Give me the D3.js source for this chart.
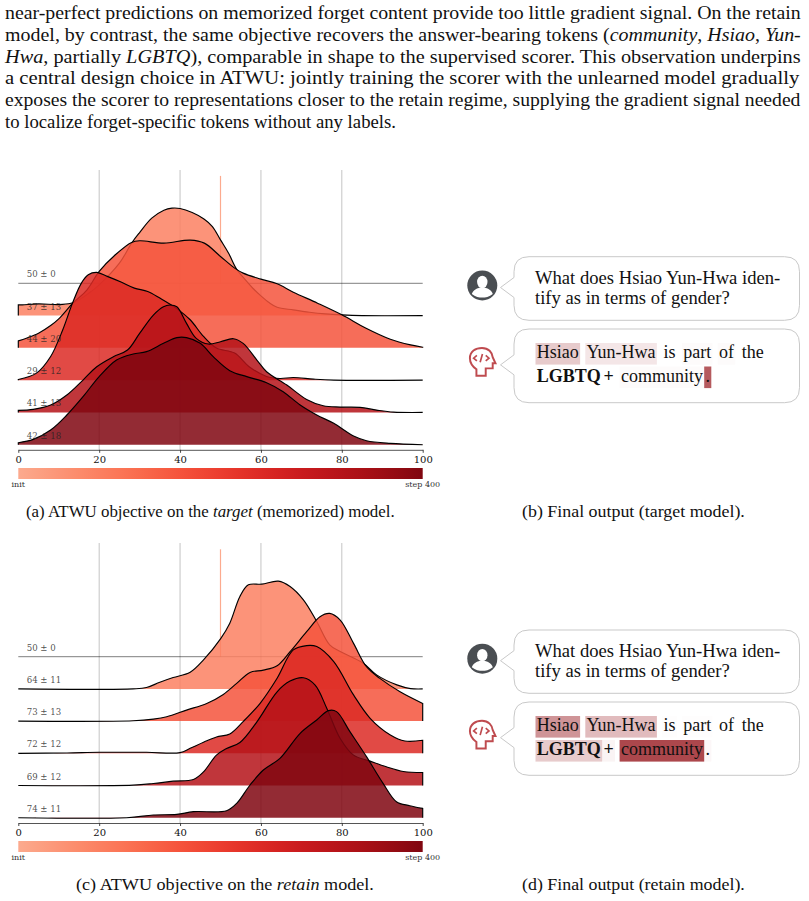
<!DOCTYPE html>
<html>
<head>
<meta charset="utf-8">
<style>
  html, body { margin: 0; padding: 0; background: #fff; }
  svg { display: block; }
</style>
<script src="https://cdn.jsdelivr.net/npm/d3@7/dist/d3.min.js"></script>
</head>
<body>
<svg id="page" width="809" height="901"></svg>
<script>
// Ridgeline values: [token position %, density]
const targetSpike = [[50, 322]];
const targetRidge1 = [[0,32],[1,32],[5,35],[10,33],[13,37],[15,47],[18,72],[20,92],[25,157],[28,217],[30,249],[33,292],[36,316],[38,322],[40,321],[43,309],[46,289],[48,267],[50,227],[52,187],[54,139],[56,109],[58,82],[60,59],[62,39],[64,25],[68,17],[72,10],[76,5],[80,2],[85,0],[100,0]];
const targetRidge2 = [[0,21],[2,29],[5,44],[8,67],[10,87],[13.5,134],[17,174],[20,229],[24,279],[28,316],[30,321],[36,314],[42.5,323],[46,314],[50,274],[53.5,239],[55.6,224],[60,206],[64,192],[68,167],[74,134],[80,99],[86,59],[92,26],[97,9],[100,2]];
const targetRidge3 = [[0,2],[4.5,21],[8,71],[11,151],[13.4,231],[15.6,291],[17.3,316],[19.4,323],[22,311],[25.4,294],[28.7,276],[32,266],[35,246],[39,216],[42.5,181],[45.8,131],[49,96],[53.5,81],[57,41],[61.4,11],[64.7,5],[68,8],[73,3],[78,0],[100,0]];
const targetRidge4 = [[0,6],[3.7,9],[8,22],[12,52],[16,97],[19.4,137],[23.5,167],[27,187],[30,237],[33.4,292],[35.9,317],[37.5,322],[39.2,317],[41.6,267],[44,222],[47,205],[50,212],[53.2,221],[55.6,207],[59,157],[61.4,122],[66.4,82],[71.3,39],[75.4,20],[79.6,16],[84.5,15],[88.6,7],[92.8,1],[100,0]];
const targetRidge5 = [[0,6],[3.7,16],[8,44],[12,89],[16,144],[20,204],[24.3,254],[28.4,272],[31.7,279],[35.9,304],[39.2,321],[41.6,321],[45,304],[48.2,264],[52.3,222],[56.5,204],[61.4,186],[65.5,159],[69.7,119],[73.8,89],[78,64],[82.9,26],[86.1,12],[92,4],[100,0]];
const targetLabels = ["50 ± 0", "37 ± 13", "44 ± 20", "29 ± 12", "41 ± 13", "42 ± 18"];

const retainSpike = [[50, 322]];
const retainRidge1 = [[0,0],[28.4,0],[31.7,4],[35,20],[38.3,34],[42.5,50],[45.8,87],[50,150],[52.3,197],[54.8,277],[56.9,312],[60.2,314],[64.3,323],[67.2,307],[70.5,267],[73.8,202],[77,132],[79.6,112],[85.3,77],[88.6,42],[93.6,12],[97,1],[100,0]];
const retainRidge2 = [[0,0],[28.4,1],[33.4,6],[36.7,13],[41.6,33],[46.6,53],[50.7,80],[54,113],[57.3,146],[60.6,153],[64,166],[67.2,208],[71.3,268],[74.6,313],[77,323],[79.6,303],[82.9,233],[86.1,163],[89.4,128],[94.4,88],[100,53]];
const retainRidge3 = [[0,0],[12,1],[20,3],[31.7,3],[40,2],[42.5,15],[45.8,33],[49,49],[52.3,58],[55.6,95],[59.8,150],[64,225],[68,310],[71.3,323],[73.8,320],[78,275],[82.9,175],[87,105],[92,55],[95.6,37],[100,39]];
const retainRidge4 = [[0,0],[28.4,1],[33.4,6],[38.3,13],[43.3,18],[45.8,41],[49,91],[51.5,111],[54.8,129],[59,191],[64,281],[67.2,313],[70.5,323],[73.4,301],[76.3,231],[79.6,141],[82.9,91],[87,73],[91,56],[95.2,42],[100,39]];
const retainRidge5 = [[0,0],[26.8,0],[33.4,8],[39.2,10],[43.3,18],[51.5,21],[54,43],[57.3,98],[60.6,143],[64.7,178],[69.7,253],[73.8,293],[76.7,321],[78.7,318],[82,258],[86.1,183],[90.2,103],[93.5,48],[96.8,36],[100,28]];
const retainLabels = ["50 ± 0", "64 ± 11", "73 ± 13", "72 ± 12", "69 ± 12", "74 ± 11"];

const xTicks = [0, 20, 40, 60, 80, 100];
const gridTicks = [20, 40, 60, 80];
const stepNames = [0, 1, 2, 3, 4, 5];

// Body text above the figure, one entry per typeset line
const paragraphLines = [
  [["near-perfect predictions on memorized forget content provide too little gradient signal. On the retain", 0]],
  [["model, by contrast, the same objective recovers the answer-bearing tokens (", 0], ["community", 1], [", ", 0], ["Hsiao", 1], [", ", 0], ["Yun-", 1]],
  [["Hwa", 1], [", partially ", 0], ["LGBTQ", 1], ["), comparable in shape to the supervised scorer. This observation underpins", 0]],
  [["a central design choice in ATWU: jointly training the scorer with the unlearned model gradually", 0]],
  [["exposes the scorer to representations closer to the retain regime, supplying the gradient signal needed", 0]],
  [["to localize forget-specific tokens without any labels.", 0]]
];
const paragraphWidths = [796, 796, 796, 795, 796, 391];

const questionLines = ["What does Hsiao Yun-Hwa iden-", "tify as in terms of gender?"];

// Answer tokens: text, attribution weight, bold, attached to the previous token
const targetAnswer = [
  [["Hsiao", 0.27, 0, 0], ["Yun-Hwa", 0.13, 0, 0], ["is", 0, 0, 0], ["part", 0.02, 0, 0], ["of", 0.02, 0, 0], ["the", 0, 0, 0]],
  [["LGBTQ", 0, 1, 0], ["+", 0, 1, 1], ["community", 0.02, 0, 0], [".", 0.85, 0, 1]]
];
const retainAnswer = [
  [["Hsiao", 0.55, 0, 0], ["Yun-Hwa", 0.35, 0, 0], ["is", 0.01, 0, 0], ["part", 0.01, 0, 0], ["of", 0, 0, 0], ["the", 0, 0, 0]],
  [["LGBTQ", 0.27, 1, 0], ["+", 0.06, 1, 1], ["community", 0.95, 0, 0], [".", 0.04, 0, 1]]
];

const svg = d3.select("#page");
const defs = svg.append("defs");
const SERIF = "'Liberation Serif', serif";
const PLOT_SERIF = "'DejaVu Serif', serif";
const shade = d3.scaleLinear().domain([0, 5]).range([0.3, 0.95]);
const ridgeColor = s => d3.interpolateReds(shade(s));

// Writes one run-list line and fits it horizontally to its typeset width
function fittedLine(parent, runs, x, y, width, size) {
  const text = parent.append("text").attr("y", 0).attr("x", 0)
    .attr("font-family", SERIF).attr("font-size", size).attr("fill", "#111")
    .style("white-space", "pre");
  runs.forEach(r => text.append("tspan").attr("font-style", r[1] ? "italic" : "normal").text(r[0]));
  const natural = text.node().getComputedTextLength();
  text.attr("transform", `translate(${x},${y}) scale(${width / natural},1)`);
  return text;
}

function ridgePanel(cfg) {
  const g = svg.append("g");
  const x = d3.scaleLinear().domain([0, 100]).range([18.3, 422.7]);
  const row = d3.scalePoint().domain(stepNames).range([cfg.firstBase, cfg.lastBase]);
  const h = d3.scaleLinear().domain([0, 322]).range([0, 107.4]);

  g.selectAll("line.grid").data(gridTicks).join("line").attr("class", "grid")
    .attr("x1", x).attr("x2", x).attr("y1", cfg.gridTop).attr("y2", cfg.axisY)
    .attr("stroke", "#c4c4c4").attr("stroke-width", 1);

  // Step 0 is a point mass: a single spike above a flat baseline
  const base0 = row(0);
  cfg.spike.forEach(d => {
    g.append("line").attr("x1", x(d[0])).attr("x2", x(d[0]))
      .attr("y1", base0).attr("y2", base0 - h(d[1]))
      .attr("stroke", ridgeColor(0)).attr("stroke-width", 1.2);
  });
  g.append("line").attr("x1", x(0)).attr("x2", x(100)).attr("y1", base0).attr("y2", base0)
    .attr("stroke", "#000").attr("stroke-opacity", 0.5).attr("stroke-width", 1);

  cfg.ridges.forEach((pts, i) => {
    const base = row(i + 1);
    const curve = d3.line().curve(d3.curveCatmullRom.alpha(0.5))
      .x(d => x(d[0])).y(d => base - h(d[1]))(pts);
    const outline = `M${x(pts[0][0])},${base}L${curve.slice(1)}L${x(pts[pts.length - 1][0])},${base}`;
    g.append("path").attr("d", outline + "Z").attr("fill", ridgeColor(i + 1)).attr("fill-opacity", 0.85);
    g.append("path").attr("d", outline).attr("fill", "none").attr("stroke", "#000").attr("stroke-width", 1.15);
  });

  // Row labels sit above the fills so they stay legible
  g.selectAll("text.row").data(cfg.labels).join("text").attr("class", "row")
    .attr("x", 26.7).attr("y", (d, i) => row(i) - 6).text(d => d)
    .attr("font-family", PLOT_SERIF).attr("font-size", 8.6).attr("fill", "#222").attr("fill-opacity", 0.8);

  // Bottom axis
  const axis = g.append("g").attr("transform", `translate(0,${cfg.axisY})`)
    .call(d3.axisBottom(x).tickValues(xTicks).tickSize(3).tickSizeOuter(0).tickPadding(cfg.tickPad).tickFormat(d3.format("d")));
  axis.select(".domain").attr("stroke", "#555").attr("stroke-width", 1);
  axis.selectAll(".tick line").attr("stroke", "#333").attr("stroke-width", 0.9);
  axis.selectAll("text").attr("font-family", PLOT_SERIF).attr("font-size", 10).attr("fill", "#111");

  // Step colour bar
  const gradId = cfg.id + "-steps";
  const grad = defs.append("linearGradient").attr("id", gradId);
  d3.range(0, 1.0001, 0.05).forEach(t => {
    grad.append("stop").attr("offset", t).attr("stop-color", d3.interpolateReds(0.3 + 0.65 * t));
  });
  g.append("rect").attr("x", x(0)).attr("width", x(100) - x(0))
    .attr("y", cfg.barY).attr("height", 11).attr("fill", `url(#${gradId})`);
  g.append("text").attr("x", x(0)).attr("y", cfg.barY + 18.8).attr("text-anchor", "middle").text("init")
    .attr("font-family", PLOT_SERIF).attr("font-size", 8).attr("fill", "#333");
  g.append("text").attr("x", x(100)).attr("y", cfg.barY + 18.8).attr("text-anchor", "middle").text("step 400")
    .attr("font-family", PLOT_SERIF).attr("font-size", 8).attr("fill", "#333");

  fittedLine(svg, cfg.caption, cfg.capX, cfg.capY, cfg.capW, 16);
}

// Rounded speech bubble with its pointer on the left edge
function bubble(parent, top, bottom) {
  const l = 514, r = 799.5, rad = 15, mid = (top + bottom) / 2 - 1, tip = 500.5;
  const d = `M${l + rad},${top}H${r - rad}Q${r},${top} ${r},${top + rad}V${bottom - rad}Q${r},${bottom} ${r - rad},${bottom}H${l + rad}` +
    `Q${l},${bottom} ${l},${bottom - rad}V${mid + 10}L${tip},${mid}L${l},${mid - 10}V${top + rad}Q${l},${top} ${l + rad},${top}Z`;
  parent.append("path").attr("d", d).attr("fill", "#fff").attr("stroke", "#c9c9c9").attr("stroke-width", 1);
}

function userIcon(parent, cx, cy) {
  const g = parent.append("g").attr("transform", `translate(${cx},${cy})`);
  g.append("circle").attr("r", 15).attr("fill", "#4a4e52");
  g.append("ellipse").attr("cy", -3.5).attr("rx", 5.2).attr("ry", 6.2).attr("fill", "#fff");
  g.append("path").attr("d", "M-10.5,8.5C-9,4 -5,3 -2.5,2H2.5C5,3 9,4 10.5,8.5C7,11.5 3,12 0,12C-3,12 -7,11.5 -10.5,8.5Z").attr("fill", "#fff");
}

function headIcon(parent, cx, cy) {
  const g = parent.append("g").attr("transform", `translate(${cx},${cy}) scale(0.93)`);
  g.append("path")
    .attr("d", "M-6,15V8C-10,5 -13,1 -13,-4C-13,-11 -7,-15 0,-15C7,-15 11,-10 11.5,-5L14.5,1.5H11.5V7H4V15Z")
    .attr("fill", "none").attr("stroke", "#bf4b4f").attr("stroke-width", 2.1).attr("stroke-linejoin", "miter");
  g.append("path").attr("d", "M-5.5,-7L-9,-4L-5.5,-1M4,-7L7.5,-4L4,-1M0.5,-8.5L-2,0.5")
    .attr("fill", "none").attr("stroke", "#bf4b4f").attr("stroke-width", 1.8);
}

function chatPanel(cfg) {
  const g = svg.append("g");
  bubble(g, cfg.q[0], cfg.q[1]);
  bubble(g, cfg.a[0], cfg.a[1]);
  userIcon(g, 482.3, (cfg.q[0] + cfg.q[1]) / 2 - 3);
  headIcon(g, 482, (cfg.a[0] + cfg.a[1]) / 2 - 4);
  questionLines.forEach((t, i) => {
    fittedLine(g, [[t, 0]], 535, cfg.qBase + i * 20.3, i === 0 ? 245.5 : 195, 18);
  });
  const rects = g.append("g");
  cfg.tokens.forEach((line, li) => {
    const y = cfg.aBase[li];
    const nodes = line.map(tok => {
      const el = g.append("text").attr("y", y).text(tok[0])
        .attr("font-family", SERIF).attr("font-size", 18).attr("fill", "#111")
        .attr("font-weight", tok[2] ? "bold" : "normal");
      return { tok, el, w: el.node().getComputedTextLength() };
    });
    const total = d3.sum(nodes, n => n.w);
    const gaps = d3.sum(line, t => t[3] ? 0 : 1) - 1;
    const space = li === 0 ? (227 - total) / gaps : 7.2;
    let cursor = 536.8;
    nodes.forEach((n, i) => {
      if (i > 0) cursor += n.tok[3] ? 2.6 : space;
      n.el.attr("x", cursor);
      rects.append("rect")
        .attr("x", cursor - 1.3).attr("width", n.w + 2.6)
        .attr("y", y - 15).attr("height", 21.6)
        .attr("fill", "#a83d42").attr("fill-opacity", n.tok[1]);
      cursor += n.w;
    });
  });
}

// Paragraph
paragraphLines.forEach((runs, i) => {
  fittedLine(svg, runs, 5, 19 + i * 21.75, paragraphWidths[i], 18);
});

ridgePanel({
  id: "target", firstBase: 283.3, lastBase: 444.7, gridTop: 170, axisY: 449.8, barY: 468, tickPad: 3,
  spike: targetSpike, ridges: [targetRidge1, targetRidge2, targetRidge3, targetRidge4, targetRidge5],
  labels: targetLabels,
  caption: [["(a) ATWU objective on the ", 0], ["target", 1], [" (memorized) model.", 0]], capX: 26, capY: 517, capW: 369
});
ridgePanel({
  id: "retain", firstBase: 656.7, lastBase: 817.7, gridTop: 543, axisY: 823, barY: 841, tickPad: 2.5,
  spike: retainSpike, ridges: [retainRidge1, retainRidge2, retainRidge3, retainRidge4, retainRidge5],
  labels: retainLabels,
  caption: [["(c) ATWU objective on the ", 0], ["retain", 1], [" model.", 0]], capX: 76, capY: 890, capW: 298
});
fittedLine(svg, [["(b) Final output (target model).", 0]], 522, 517, 223, 16);
fittedLine(svg, [["(d) Final output (retain model).", 0]], 522, 890, 223, 16);

chatPanel({ q: [256.7, 320.3], a: [329, 402.7], qBase: 284, aBase: [358, 381.5], tokens: targetAnswer });
chatPanel({ q: [630, 693.3], a: [702, 775.3], qBase: 656.5, aBase: [731, 755], tokens: retainAnswer });
</script>
</body>
</html>
